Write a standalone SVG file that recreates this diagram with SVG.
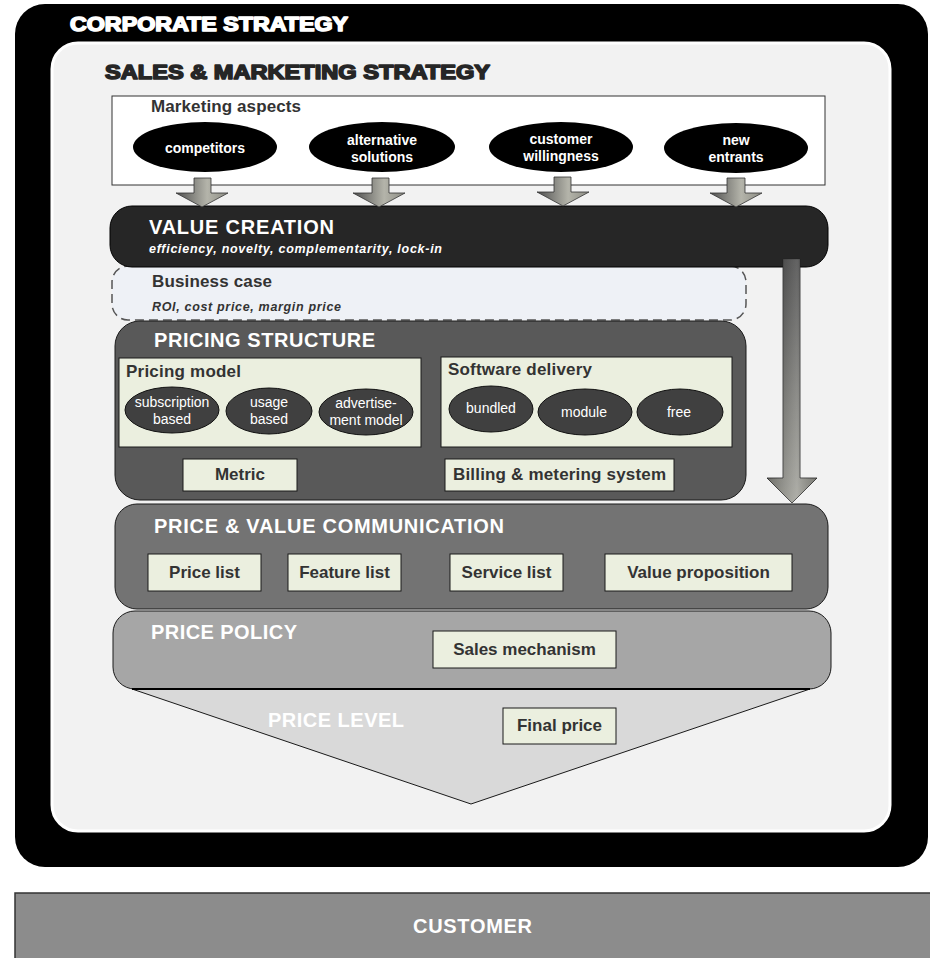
<svg xmlns="http://www.w3.org/2000/svg" width="930" height="958" viewBox="0 0 930 958">
  <defs>
    <linearGradient id="gArrow" x1="0" y1="0" x2="1" y2="0">
      <stop offset="0" stop-color="#4f4f4f"/>
      <stop offset="0.6" stop-color="#b4b4aa"/>
      <stop offset="1" stop-color="#8c8c84"/>
    </linearGradient>
    <linearGradient id="gBig" x1="0" y1="0" x2="0" y2="1">
      <stop offset="0" stop-color="#3c3c3c"/>
      <stop offset="1" stop-color="#9c9c94"/>
    </linearGradient>
    <linearGradient id="gBigH" x1="0" y1="0" x2="1" y2="0">
      <stop offset="0" stop-color="#000" stop-opacity="0.25"/>
      <stop offset="0.6" stop-color="#fff" stop-opacity="0.2"/>
      <stop offset="1" stop-color="#000" stop-opacity="0.15"/>
    </linearGradient>
    <style>
      text { font-family: "Liberation Sans", Arial, sans-serif; }
      .heavy { font-weight: bold; font-size: 20px; stroke-width: 1.6; stroke-linejoin: round; paint-order: stroke; }
      .ttl { font-weight: bold; font-size: 20px; fill: #ffffff; }
      .sub { font-weight: bold; font-style: italic; font-size: 12.5px; }
      .hd { font-weight: bold; font-size: 17px; fill: #333333; }
      .box { fill: #ebefdf; stroke: #1a1a1a; stroke-width: 1; }
      .boxt { font-weight: bold; font-size: 17px; fill: #333333; text-anchor: middle; }
      .ov { fill: #000000; }
      .ovt { font-weight: bold; font-size: 14px; fill: #ffffff; text-anchor: middle; }
      .ov2 { fill: #404040; stroke: #111111; stroke-width: 1; }
      .ov2t { font-size: 14px; fill: #ffffff; text-anchor: middle; }
      .blk { fill: url(#gArrow); stroke: #333333; stroke-width: 0.8; }
    </style>
  </defs>

  <rect width="930" height="958" fill="#ffffff"/>

  <!-- corporate strategy frame -->
  <g id="corporate">
    <rect x="15" y="4" width="913" height="863" rx="30" fill="#000000"/>
    <text x="70" y="31" class="heavy" fill="#ffffff" stroke="#ffffff" textLength="278" lengthAdjust="spacingAndGlyphs">CORPORATE STRATEGY</text>
  </g>

  <!-- sales & marketing panel -->
  <g id="sales-marketing">
    <rect x="52" y="43" width="838" height="788" rx="26" fill="#f2f2f2" stroke="#ffffff" stroke-width="3"/>
    <text x="105" y="79" class="heavy" fill="#262626" stroke="#262626" textLength="385" lengthAdjust="spacingAndGlyphs">SALES &amp; MARKETING STRATEGY</text>
  </g>

  <!-- marketing aspects -->
  <g id="marketing-aspects">
    <rect x="112" y="96" width="713" height="89" fill="#ffffff" stroke="#333333" stroke-width="1"/>
    <text x="151" y="112" class="hd" textLength="150">Marketing aspects</text>
    <ellipse cx="205" cy="147" rx="72" ry="25" class="ov"/>
    <text x="205" y="153" class="ovt">competitors</text>
    <ellipse cx="382" cy="147" rx="73" ry="25" class="ov"/>
    <text x="382" y="145" class="ovt">alternative</text>
    <text x="382" y="162" class="ovt">solutions</text>
    <ellipse cx="561" cy="147" rx="72" ry="25" class="ov"/>
    <text x="561" y="144" class="ovt">customer</text>
    <text x="561" y="161" class="ovt">willingness</text>
    <ellipse cx="736" cy="148" rx="72" ry="25" class="ov"/>
    <text x="736" y="145" class="ovt">new</text>
    <text x="736" y="162" class="ovt">entrants</text>
  </g>

  <!-- business case (dashed) -->
  <g id="business-case">
    <rect x="112" y="266" width="634" height="54" rx="16" fill="#eef1f6" stroke="#555555" stroke-width="1.5" stroke-dasharray="9 5"/>
    <text x="152" y="287" class="hd" textLength="120">Business case</text>
    <text x="152" y="311" class="sub" fill="#333333" textLength="189">ROI, cost price, margin price</text>
  </g>

  <!-- value creation -->
  <g id="value-creation">
    <rect x="110" y="206" width="718" height="61" rx="22" fill="#262626" stroke="#000000" stroke-width="1"/>
    <text x="149" y="234" class="ttl" textLength="185">VALUE CREATION</text>
    <text x="149" y="253" class="sub" fill="#ffffff" textLength="293">efficiency, novelty, complementarity, lock-in</text>
  </g>

  <!-- pricing structure -->
  <g id="pricing-structure">
    <rect x="115" y="321" width="631" height="179" rx="25" fill="#595959" stroke="#1a1a1a" stroke-width="1"/>
    <text x="154" y="347" class="ttl" textLength="221">PRICING STRUCTURE</text>
    <g id="pricing-model">
      <rect x="119" y="358" width="302" height="89" class="box"/>
      <text x="126" y="377" class="hd" textLength="115">Pricing model</text>
      <ellipse cx="172" cy="410" rx="47" ry="23" class="ov2"/>
      <text x="172" y="407" class="ov2t">subscription</text>
      <text x="172" y="424" class="ov2t">based</text>
      <ellipse cx="269" cy="411" rx="43" ry="23" class="ov2"/>
      <text x="269" y="407" class="ov2t">usage</text>
      <text x="269" y="424" class="ov2t">based</text>
      <ellipse cx="366" cy="412" rx="47" ry="23" class="ov2"/>
      <text x="366" y="408" class="ov2t">advertise-</text>
      <text x="366" y="425" class="ov2t">ment model</text>
    </g>
    <g id="software-delivery">
      <rect x="441" y="357" width="291" height="90" class="box"/>
      <text x="448" y="375" class="hd" textLength="144">Software delivery</text>
      <ellipse cx="491" cy="409" rx="42" ry="23" class="ov2"/>
      <text x="491" y="413" class="ov2t">bundled</text>
      <ellipse cx="585" cy="412" rx="47" ry="23" class="ov2"/>
      <text x="584" y="417" class="ov2t">module</text>
      <ellipse cx="680" cy="412" rx="43" ry="23" class="ov2"/>
      <text x="679" y="417" class="ov2t">free</text>
    </g>
    <g id="metric">
      <rect x="183" y="459" width="114" height="32" class="box"/>
      <text x="240" y="480" class="boxt">Metric</text>
    </g>
    <g id="billing">
      <rect x="445" y="459" width="229" height="32" class="box"/>
      <text x="559.5" y="480" class="boxt" textLength="213">Billing &amp; metering system</text>
    </g>
  </g>

  <!-- price & value communication -->
  <g id="price-value-communication">
    <rect x="115" y="504" width="713" height="105" rx="22" fill="#737373" stroke="#1a1a1a" stroke-width="1"/>
    <text x="154" y="533" class="ttl" textLength="350">PRICE &amp; VALUE COMMUNICATION</text>
    <g id="price-list">
      <rect x="148" y="554" width="113" height="37" class="box"/>
      <text x="204.5" y="578" class="boxt">Price list</text>
    </g>
    <g id="feature-list">
      <rect x="288" y="554" width="113" height="37" class="box"/>
      <text x="344.5" y="578" class="boxt">Feature list</text>
    </g>
    <g id="service-list">
      <rect x="450" y="554" width="113" height="37" class="box"/>
      <text x="506.5" y="578" class="boxt">Service list</text>
    </g>
    <g id="value-proposition">
      <rect x="605" y="554" width="187" height="37" class="box"/>
      <text x="698.5" y="578" class="boxt">Value proposition</text>
    </g>
  </g>

  <!-- price policy -->
  <g id="price-policy">
    <rect x="113" y="611" width="718" height="78" rx="22" fill="#a6a6a6" stroke="#1a1a1a" stroke-width="1"/>
    <text x="151" y="639" class="ttl" textLength="146">PRICE POLICY</text>
    <g id="sales-mechanism">
      <rect x="433" y="631" width="183" height="37" class="box"/>
      <text x="524.5" y="655" class="boxt">Sales mechanism</text>
    </g>
  </g>

  <!-- price level funnel -->
  <g id="price-level">
    <polygon points="132,689 810,689 471,804" fill="#d9d9d9" stroke="#1a1a1a" stroke-width="1"/>
    <line x1="132" y1="689" x2="810" y2="689" stroke="#000000" stroke-width="2"/>
    <text x="268" y="727" class="ttl" textLength="136">PRICE LEVEL</text>
    <g id="final-price">
      <rect x="503" y="708" width="113" height="36" class="box"/>
      <text x="559.5" y="731" class="boxt">Final price</text>
    </g>
  </g>

  <!-- customer -->
  <g id="customer">
    <rect x="15" y="893" width="925" height="80" fill="#8c8c8c" stroke="#333333" stroke-width="1.5"/>
    <text x="472.5" y="933" class="ttl" text-anchor="middle" textLength="119">CUSTOMER</text>
  </g>

  <!-- connectors: block arrows -->
  <g id="connectors">
    <path class="blk" d="M194,178 H211 V193 H228 L202,207 L176,193 H194 Z"/>
    <path class="blk" d="M372,178 H389 V193 H405 L379,207 L353,193 H372 Z"/>
    <path class="blk" d="M554,177 H571 V192 H589 L563,206 L537,192 H554 Z"/>
    <path class="blk" d="M727,178 H745 V193 H762 L736,207 L710,193 H727 Z"/>
    <path d="M783,259 H800 V478 H817 L792,503 L767,478 H783 Z" fill="url(#gBig)" stroke="#222222" stroke-width="0.8"/>
    <path d="M783,259 H800 V478 H817 L792,503 L767,478 H783 Z" fill="url(#gBigH)" stroke="none"/>
  </g>
</svg>
